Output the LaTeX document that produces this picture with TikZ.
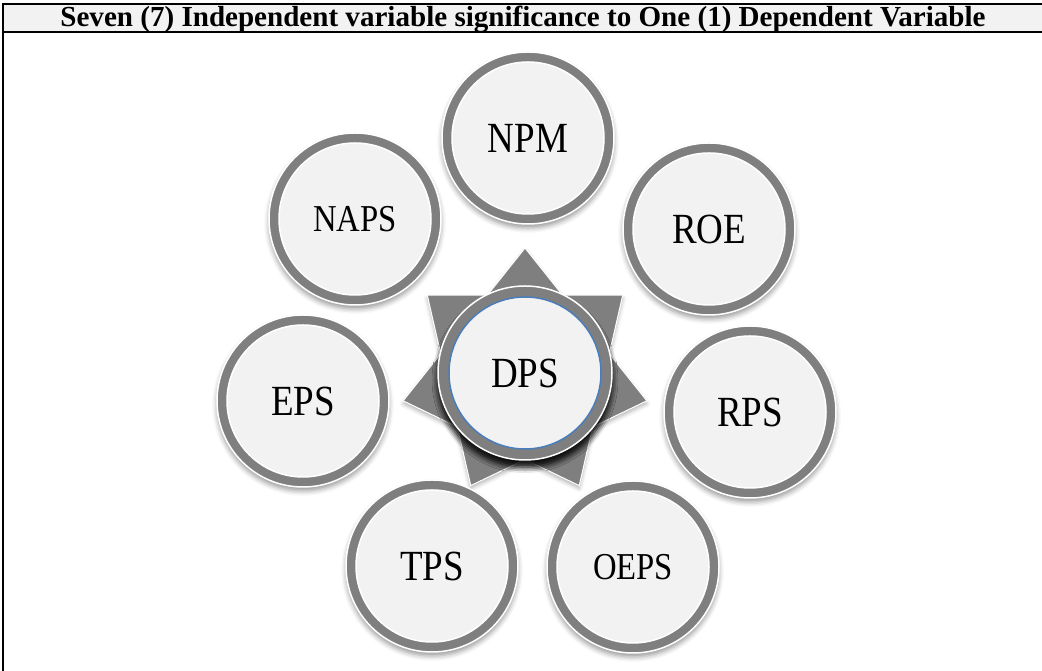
\documentclass[tikz,border=0pt]{standalone}
\usepackage{fontspec}
\setmainfont{Liberation Serif}
\usetikzlibrary{shadows.blur,calc}
\definecolor{ringgray}{HTML}{7F7F7F}
\definecolor{innerfill}{HTML}{F2F2F2}
\definecolor{dpsblue}{HTML}{4A7EBB}
\definecolor{titlebg}{HTML}{F2F2F2}
\tikzset{
  ring/.style={circle, minimum size=172pt, inner sep=0pt, fill=ringgray, draw=white, line width=1.5pt,
    blur shadow={shadow xshift=0pt, shadow yshift=-4pt, shadow blur radius=5pt, shadow opacity=40}},
  disc/.style={circle, minimum size=152pt, inner sep=0pt, fill=innerfill, draw=white, line width=1.5pt},
  biglbl/.style={font=\fontsize{43}{43}\selectfont},
  smalllbl/.style={font=\fontsize{38}{38}\selectfont},
  frameline/.style={line width=2.6pt, black}
}
\begin{document}
\begin{tikzpicture}[x=1pt,y=1pt]
\useasboundingbox (0,0) rectangle (1042,671);
% title row
\fill[titlebg] (3,639) rectangle (1042,667);
\draw[frameline] (3,0) -- (3,667) -- (1042,667);
\draw[frameline] (3,639) -- (1042,639);
\node (title) at (523,652) {\resizebox{925pt}{!}{\bfseries Seven (7) Independent variable significance to One (1) Dependent Variable}};
% central star
\coordinate (dpsc) at (525,298);
\fill[ringgray, draw=white, line width=1pt,
  blur shadow={shadow xshift=0pt, shadow yshift=-3pt, shadow blur radius=4pt, shadow opacity=30}]
  ($(dpsc)+(90:125)$) -- ($(dpsc)+(-12.857:125)$) -- ($(dpsc)+(-115.714:125)$) --
  ($(dpsc)+(141.429:125)$) -- ($(dpsc)+(38.571:125)$) -- ($(dpsc)+(-64.286:125)$) --
  ($(dpsc)+(-167.143:125)$) -- cycle;
% outer circles
\node[ring] (npmr) at (528,533) {};
\node[disc, biglbl] (npm) at (npmr) {\scalebox{0.86}[1]{NPM}};
\node[ring] (napsr) at (355,452) {};
\node[disc, smalllbl] (naps) at (napsr) {\scalebox{0.86}[1]{NAPS}};
\node[ring] (roer) at (709,442) {};
\node[disc, biglbl] (roe) at (roer) {\scalebox{0.86}[1]{ROE}};
\node[ring] (epsr) at (303,270) {};
\node[disc, biglbl] (eps) at (epsr) {\scalebox{0.86}[1]{EPS}};
\node[ring] (rpsr) at (750,259) {};
\node[disc, biglbl] (rps) at (rpsr) {\scalebox{0.86}[1]{RPS}};
\node[ring] (tpsr) at (432,105) {};
\node[disc, biglbl] (tps) at (tpsr) {\scalebox{0.86}[1]{TPS}};
\node[ring] (oepsr) at (633,104) {};
\node[disc, smalllbl] (oeps) at (oepsr) {\scalebox{0.86}[1]{OEPS}};
% central circle
\node[ring, minimum size=174pt,
  blur shadow={shadow xshift=0pt, shadow yshift=-7pt, shadow blur radius=6pt, shadow opacity=70}] (dpsr) at (dpsc) {};
\node[circle, minimum size=152pt, inner sep=0pt, fill=innerfill, draw=dpsblue, line width=1.5pt, biglbl] (dps) at (dpsc) {\scalebox{0.86}[1]{DPS}};
\end{tikzpicture}
\end{document}
